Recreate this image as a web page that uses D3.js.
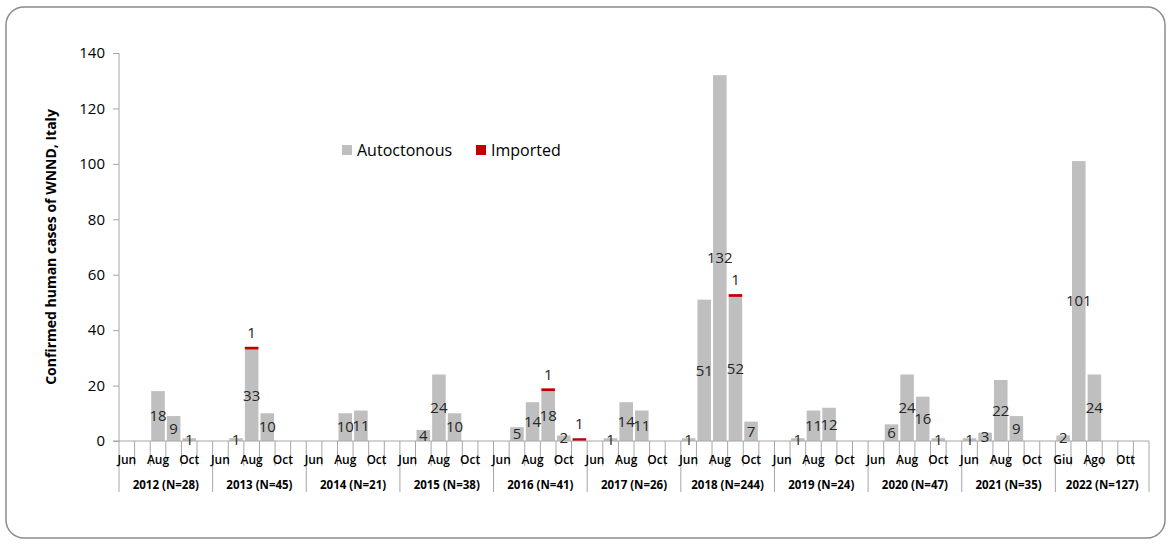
<!DOCTYPE html>
<html>
<head>
<meta charset="utf-8">
<script src="https://cdn.jsdelivr.net/npm/d3@7"></script>
<style>
  body { margin: 0; background: #fff; }
  svg { display: block; font-family: "Open Sans", sans-serif; }
</style>
</head>
<body>
<div id="chart"></div>
<script>
const width = 1171, height = 544;

// data
const years = ["2012 (N=28)", "2013 (N=45)", "2014 (N=21)", "2015 (N=38)", "2016 (N=41)",
    "2017 (N=26)", "2018 (N=244)", "2019 (N=24)", "2020 (N=47)", "2021 (N=35)", "2022 (N=127)"];
const monthsEn = ["Jun", "Jul", "Aug", "Sep", "Oct", "Nov"];
const monthsIt = ["Giu", "Lug", "Ago", "Set", "Ott", "Nov"];
// Jun..Nov for each year
const autoctonous = [
    [0, 0, 18, 9, 1, 0],
    [0, 1, 33, 10, 0, 0],
    [0, 0, 10, 11, 0, 0],
    [0, 4, 24, 10, 0, 0],
    [0, 5, 14, 18, 2, 0],
    [0, 1, 14, 11, 0, 0],
    [1, 51, 132, 52, 7, 0],
    [0, 1, 11, 12, 0, 0],
    [0, 6, 24, 16, 1, 0],
    [1, 3, 22, 9, 0, 0],
    [2, 101, 24, 0, 0, 0]
];
const imported = [
    [0, 0, 0, 0, 0, 0],
    [0, 0, 1, 0, 0, 0],
    [0, 0, 0, 0, 0, 0],
    [0, 0, 0, 0, 0, 0],
    [0, 0, 0, 1, 0, 1],
    [0, 0, 0, 0, 0, 0],
    [0, 0, 0, 1, 0, 0],
    [0, 0, 0, 0, 0, 0],
    [0, 0, 0, 0, 0, 0],
    [0, 0, 0, 0, 0, 0],
    [0, 0, 0, 0, 0, 0]
];
const yTicks = [0, 20, 40, 60, 80, 100, 120, 140];

const autoColor = "#bfbfbf", impColor = "#c00000";

// flatten into slots
var slots = [];
years.forEach(function (yr, i) {
    var names = (i === years.length - 1) ? monthsIt : monthsEn;
    names.forEach(function (m, j) {
        slots.push({ key: yr + "|" + j, year: yr, yi: i, mi: j, month: m,
            auto: autoctonous[i][j], imp: imported[i][j] });
    });
});

const plotLeft = 119, plotRight = 1149, plotBase = 441, plotTop = 53;

var svg = d3.select("#chart").append("svg")
    .attr("width", width)
    .attr("height", height);

// outer frame
svg.append("rect")
    .attr("x", 6).attr("y", 7)
    .attr("width", 1159).attr("height", 531)
    .attr("rx", 18).attr("ry", 18)
    .attr("fill", "#fff")
    .attr("stroke", "#8c8c8c")
    .attr("stroke-width", 1.5);

var x = d3.scaleBand()
    .domain(slots.map(function (d) { return d.key; }))
    .range([plotLeft, plotRight])
    .paddingInner(0.13)
    .paddingOuter(0.065);

var y = d3.scaleLinear().domain([0, 140]).range([plotBase, plotTop]);

function slotStart(i) { return plotLeft + i * (plotRight - plotLeft) / slots.length; }

// y axis
var yAxis = svg.append("g")
    .attr("transform", "translate(" + plotLeft + ",0)")
    .call(d3.axisLeft(y).tickValues(yTicks).tickSize(6).tickPadding(8));
yAxis.select(".domain").attr("stroke", "#a6a6a6").attr("d", "M0," + plotTop + "V" + plotBase);
yAxis.selectAll(".tick line").attr("stroke", "#a6a6a6");
yAxis.selectAll(".tick text")
    .attr("fill", "#000")
    .style("font-size", "15px")
    .style("font-family", "'Open Sans', sans-serif");

svg.append("text")
    .attr("transform", "translate(56," + (plotTop + plotBase) / 2 + ") rotate(-90)")
    .attr("text-anchor", "middle")
    .style("font-size", "14px")
    .style("font-weight", "bold")
    .text("Confirmed human cases of WNND, Italy");

// bars
var bars = svg.append("g");
bars.selectAll(".auto")
    .data(slots.filter(function (d) { return d.auto > 0; }))
    .enter().append("rect")
    .attr("class", "auto")
    .attr("x", function (d) { return x(d.key); })
    .attr("width", x.bandwidth())
    .attr("y", function (d) { return y(d.auto); })
    .attr("height", function (d) { return plotBase - y(d.auto); })
    .attr("fill", autoColor);

bars.selectAll(".imp")
    .data(slots.filter(function (d) { return d.imp > 0; }))
    .enter().append("rect")
    .attr("class", "imp")
    .attr("x", function (d) { return x(d.key); })
    .attr("width", x.bandwidth())
    .attr("y", function (d) { return y(d.auto + d.imp); })
    .attr("height", function (d) { return y(d.auto) - y(d.auto + d.imp); })
    .attr("fill", impColor);

// baseline and category ticks
var axisG = svg.append("g").attr("stroke", "#a6a6a6").attr("stroke-width", 1);
axisG.append("line")
    .attr("x1", plotLeft - 6).attr("x2", plotRight)
    .attr("y1", plotBase).attr("y2", plotBase);
d3.range(slots.length + 1).forEach(function (i) {
    var groupEdge = i % 6 === 0;
    axisG.append("line")
        .attr("x1", slotStart(i)).attr("x2", slotStart(i))
        .attr("y1", plotBase).attr("y2", groupEdge ? 492 : 466);
});

// data labels
var labels = svg.append("g")
    .style("font-size", "15px")
    .attr("fill", "#262626")
    .attr("text-anchor", "middle");
labels.selectAll(".la")
    .data(slots.filter(function (d) { return d.auto > 0; }))
    .enter().append("text")
    .attr("x", function (d) { return x(d.key) + x.bandwidth() / 2; })
    .attr("y", function (d) { return (y(d.auto) + plotBase) / 2; })
    .attr("dy", "0.35em")
    .text(function (d) { return d.auto; });
labels.selectAll(".li")
    .data(slots.filter(function (d) { return d.imp > 0; }))
    .enter().append("text")
    .attr("x", function (d) { return x(d.key) + x.bandwidth() / 2; })
    .attr("y", function (d) { return y(d.auto + d.imp) - 14; })
    .attr("dy", "0.35em")
    .text(function (d) { return d.imp; });

// month labels (every other month, as in the original)
svg.append("g")
    .style("font-size", "12px")
    .style("font-weight", "600")
    .attr("text-anchor", "middle")
    .selectAll("text")
    .data(slots.filter(function (d) { return d.mi % 2 === 0; }))
    .enter().append("text")
    .attr("x", function (d) { return x(d.key) + x.bandwidth() / 2; })
    .attr("y", 464)
    .text(function (d) { return d.month; });

// year labels
svg.append("g")
    .style("font-size", "11.5px")
    .style("font-weight", "bold")
    .attr("text-anchor", "middle")
    .selectAll("text")
    .data(years)
    .enter().append("text")
    .attr("x", function (d, i) { return (slotStart(i * 6) + slotStart(i * 6 + 6)) / 2; })
    .attr("y", 489)
    .text(function (d) { return d; });

// legend
var legend = svg.append("g").attr("transform", "translate(342,150)");
var legendItems = [["Autoctonous", autoColor, 0], ["Imported", impColor, 134]];
legendItems.forEach(function (it) {
    legend.append("rect")
        .attr("x", it[2]).attr("y", -5)
        .attr("width", 10).attr("height", 10)
        .attr("fill", it[1]);
    legend.append("text")
        .attr("x", it[2] + 15).attr("y", 0)
        .attr("dy", "0.35em")
        .style("font-size", "16px")
        .text(it[0]);
});
</script>
</body>
</html>
